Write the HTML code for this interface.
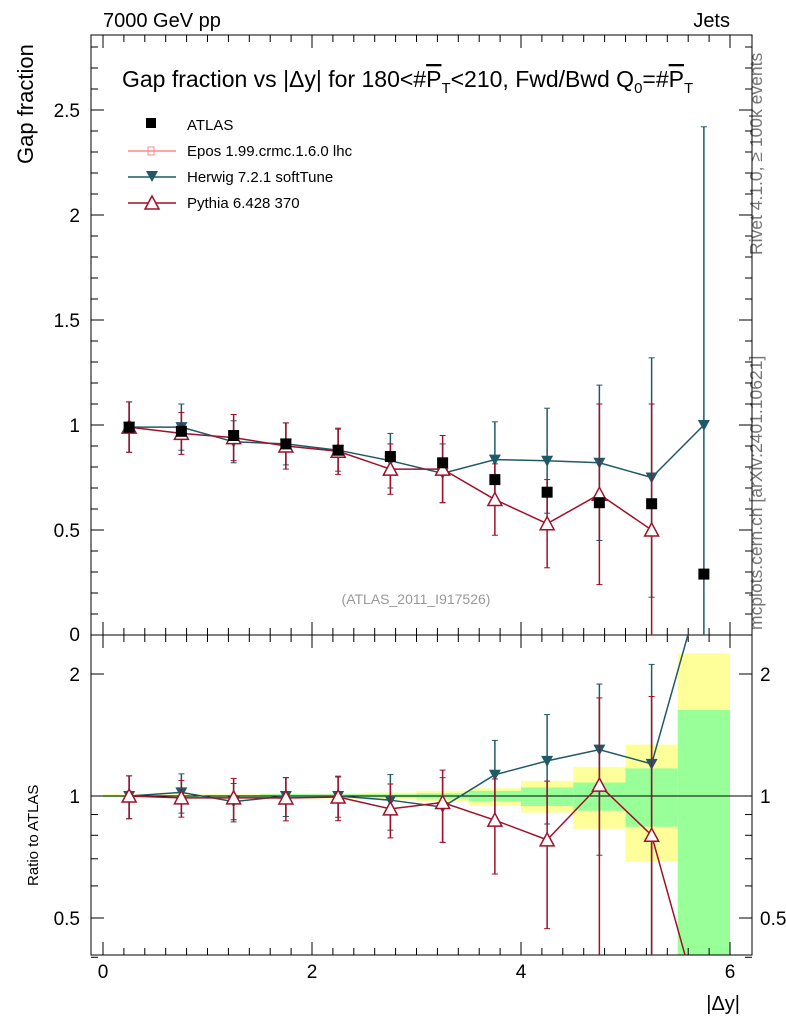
<!DOCTYPE html>
<html><head><meta charset="utf-8"><style>
html,body{margin:0;padding:0;background:#fff;overflow:hidden;width:786px;height:1024px}
svg{display:block}
svg text{font-family:"Liberation Sans",sans-serif}
</style></head><body>
<svg id="c" width="786" height="1024" xmlns="http://www.w3.org/2000/svg">
<text x="103" y="27" font-size="20">7000 GeV pp</text>
<text x="730" y="27" font-size="20" text-anchor="end">Jets</text>
<text x="122" y="87" font-size="23">Gap fraction vs |Δy| for 180&lt;#<tspan text-decoration="overline">P</tspan><tspan font-size="15" dy="6">T</tspan><tspan dy="-6">&lt;210, Fwd/Bwd Q</tspan><tspan font-size="15" dy="6">0</tspan><tspan dy="-6">=#</tspan><tspan text-decoration="overline">P</tspan><tspan font-size="15" dy="6">T</tspan></text>
<text x="33" y="164" font-size="22" transform="rotate(-90 33 164)">Gap fraction</text>
<text x="38" y="886" font-size="15" transform="rotate(-90 38 886)">Ratio to ATLAS</text>
<text x="762" y="255" font-size="17.5" fill="#777" transform="rotate(-90 762 255)">Rivet 4.1.0, ≥ 100k events</text>
<text x="762" y="630" font-size="17.5" fill="#777" transform="rotate(-90 762 630)">mcplots.cern.ch [arXiv:2401.10621]</text>
<text x="416" y="604" font-size="14" fill="#999" text-anchor="middle">(ATLAS_2011_I917526)</text>
<text x="740" y="1010" font-size="20" text-anchor="end">|Δy|</text>
<g>
<rect x="146" y="118" width="10" height="10" fill="#000"/>
<text x="187" y="130" font-size="15">ATLAS</text>
<line x1="128" y1="151" x2="176" y2="151" stroke="#f88" stroke-width="1.5"/><rect x="148" y="147" width="6" height="8" fill="none" stroke="#f88"/>
<text x="187" y="156" font-size="15">Epos 1.99.crmc.1.6.0 lhc</text>
<line x1="128" y1="177" x2="176" y2="177" stroke="#1f5a68" stroke-width="1.5"/><path d="M146 171 L158 171 L152 182Z" fill="#1f5a68"/>
<text x="187" y="182" font-size="15">Herwig 7.2.1 softTune</text>
<line x1="128" y1="203" x2="176" y2="203" stroke="#a0102a" stroke-width="1.5"/><path d="M152 196 L159 209 L145 209Z" fill="#fff" stroke="#a0102a" stroke-width="1.5"/>
<text x="187" y="208" font-size="15">Pythia 6.428 370</text>
</g>
<g id="g"></g>
</svg>
<script>
const xCenters=[0.25,0.75,1.25,1.75,2.25,2.75,3.25,3.75,4.25,4.75,5.25,5.75];
const atlas=[0.99,0.97,0.95,0.91,0.88,0.85,0.82,0.74,0.68,0.63,0.625,0.29];
const herwig=[0.99,0.99,0.92,0.91,0.88,0.83,0.77,0.835,0.83,0.82,0.75,1.0];
const herwigErr=[0.12,0.11,0.1,0.1,0.1,0.13,0.14,0.18,0.25,0.37,0.57,1.42];
const pythia=[0.99,0.96,0.94,0.90,0.875,0.79,0.79,0.645,0.53,0.67,0.50,0.08];
const pythiaErr=[0.12,0.1,0.11,0.11,0.11,0.12,0.16,0.17,0.21,0.43,0.6,0];
const pythiaMainCount=11;
const bandYellowLo=[0.99,0.99,0.99,0.985,0.985,0.98,0.97,0.945,0.91,0.83,0.69,0.3];
const bandYellowHi=[1.01,1.01,1.01,1.015,1.015,1.02,1.03,1.045,1.09,1.18,1.34,2.25];
const bandGreenLo=[0.995,0.995,0.995,0.99,0.99,0.99,0.985,0.97,0.945,0.92,0.84,0.3];
const bandGreenHi=[1.005,1.005,1.005,1.01,1.01,1.01,1.015,1.03,1.05,1.08,1.17,1.63];
const mainTicks=[0.5,1,1.5,2,2.5];
const ratioTicks=[0.5,1,2];
const xTicks=[0,2,4,6];
const NS="http://www.w3.org/2000/svg",g=document.getElementById('g');
const L=91,R=752,T=35,M=635,B=955;
const X=v=>103+v*104.5, Y=v=>635-v*210;
const RY=v=>796-Math.log(v)/Math.log(2)*122;
function mk(t,a,name){const e=document.createElementNS(NS,t);for(const k in a)e.setAttribute(k,a[k]);


g.appendChild(e);return e;}
const clipR=v=>Math.min(B,Math.max(M,RY(Math.max(v,0.01))));
const defs=document.createElementNS(NS,'defs');defs.innerHTML=`<clipPath id="cm"><rect x="${L}" y="${T}" width="${R-L}" height="${M-T}"/></clipPath><clipPath id="cr"><rect x="${L}" y="${M}" width="${R-L}" height="${B-M}"/></clipPath>`;g.appendChild(defs);
xCenters.forEach((c,i)=>{
 mk('rect',{x:X(c-0.25),y:clipR(bandYellowHi[i]),width:X(0.5)-X(0),height:clipR(bandYellowLo[i])-clipR(bandYellowHi[i]),fill:'#ffff99'},'band-total-'+i);
 mk('rect',{x:X(c-0.25),y:clipR(bandGreenHi[i]),width:X(0.5)-X(0),height:clipR(bandGreenLo[i])-clipR(bandGreenHi[i]),fill:'#99ff99'},'band-stat-'+i);
});
mk('line',{x1:L,x2:R,y1:RY(1),y2:RY(1),stroke:'#000'},'ratio-unity-line');
mk('rect',{x:L,y:T,width:R-L,height:M-T,fill:'none',stroke:'#000'},'main-frame');
mk('rect',{x:L,y:M,width:R-L,height:B-M,fill:'none',stroke:'#000'},'ratio-frame');
for(let v=0.1;v<2.85;v+=0.1){const y=Y(v);const big=Math.abs(v*2-Math.round(v*2))<0.01;const l=big?13:7;
 mk('line',{x1:L,x2:L+l,y1:y,y2:y,stroke:'#000'},'y-tick');mk('line',{x1:R,x2:R-l,y1:y,y2:y,stroke:'#000'},'y-tick-right');}
mainTicks.forEach(v=>{const t=mk('text',{x:80,y:Y(v)+7,'font-size':19,'text-anchor':'end'},'y-tick-label');t.textContent=v;});
{const t=mk('text',{x:80,y:641,'font-size':19,'text-anchor':'end'},'y-tick-label');t.textContent='0';}
[0.4,0.5,0.6,0.7,0.8,0.9,1,2].forEach(v=>{const y=RY(v);const big=ratioTicks.includes(v);const l=big?13:7;
 mk('line',{x1:L,x2:L+l,y1:y,y2:y,stroke:'#000'},'ratio-tick');mk('line',{x1:R,x2:R-l,y1:y,y2:y,stroke:'#000'},'ratio-tick-right');});
ratioTicks.forEach(v=>{let t=mk('text',{x:80,y:RY(v)+7,'font-size':19,'text-anchor':'end'},'ratio-tick-label');t.textContent=v;
 t=mk('text',{x:760,y:RY(v)+7,'font-size':19},'ratio-tick-label-right');t.textContent=v;});
for(let v=-0.2;v<=6.2;v+=0.2){const x=X(v);if(x<L||x>R)continue;const big=Math.abs(v-Math.round(v))<0.01&&Math.round(v)%2==0;const l=big?13:7;
 [[T,1],[M,-1],[M,1],[B,-1]].forEach(([y0,d])=>mk('line',{x1:x,x2:x,y1:y0,y2:y0+d*l,stroke:'#000'},'x-tick'));}
xTicks.forEach(v=>{const t=mk('text',{x:X(v),y:978,'font-size':19,'text-anchor':'middle'},'x-tick-label');t.textContent=v;});
function series(vals,errs,col,tri,name,ratio,count){
 const n=count||vals.length;
 const yf=ratio?(v,i)=>RY(Math.max(v/atlas[i],0.05)):(v)=>Y(v);
 const pts=xCenters.slice(0,n).map((c,i)=>[X(c),yf(vals[i],i)]);
 mk('polyline',{points:pts.map(p=>p.join(',')).join(' '),fill:'none',stroke:col,'stroke-width':1.5,'clip-path':ratio?'url(#cr)':'url(#cm)'},name+'-line');
 xCenters.slice(0,n).forEach((c,i)=>{
  const top=ratio?M:T,bot=ratio?B:M,x=X(c);
  const y=pts[i][1];
  if(ratio&&(y<top||y>bot))return;
  if(!errs[i])return;
  const lo=ratio?RY(Math.max((vals[i]-errs[i])/atlas[i],0.05)):Y(vals[i]-errs[i]);
  const hi=ratio?RY((vals[i]+errs[i])/atlas[i]):Y(vals[i]+errs[i]);
  mk('line',{x1:x,x2:x,y1:Math.max(top,hi),y2:Math.min(bot,lo),stroke:col,'stroke-width':1.5},name+'-errorbar');
  [hi,lo].forEach(yy=>{if(yy>top&&yy<bot)mk('line',{x1:x-3,x2:x+3,y1:yy,y2:yy,stroke:col},name+'-errorcap');});
  if(y<top||y>bot)return;
  if(tri)mk('path',{d:`M${x-6} ${y-5}L${x+6} ${y-5}L${x} ${y+6}Z`,fill:col},name+'-point');
  else mk('path',{d:`M${x} ${y-7}L${x+7} ${y+6}L${x-7} ${y+6}Z`,fill:'#fff',stroke:col,'stroke-width':1.5},name+'-point');
 });
}
series(herwig,herwigErr,'#1f5a68',true,'herwig',false);
series(pythia,pythiaErr,'#a0102a',false,'pythia',false,pythiaMainCount);
xCenters.forEach((c,i)=>mk('rect',{x:X(c)-5.5,y:Y(atlas[i])-5.5,width:11,height:11,fill:'#000'},'atlas-point'));
series(herwig,herwigErr,'#1f5a68',true,'herwig-ratio',true);
series(pythia,pythiaErr,'#a0102a',false,'pythia-ratio',true);
</script>
</body></html>
